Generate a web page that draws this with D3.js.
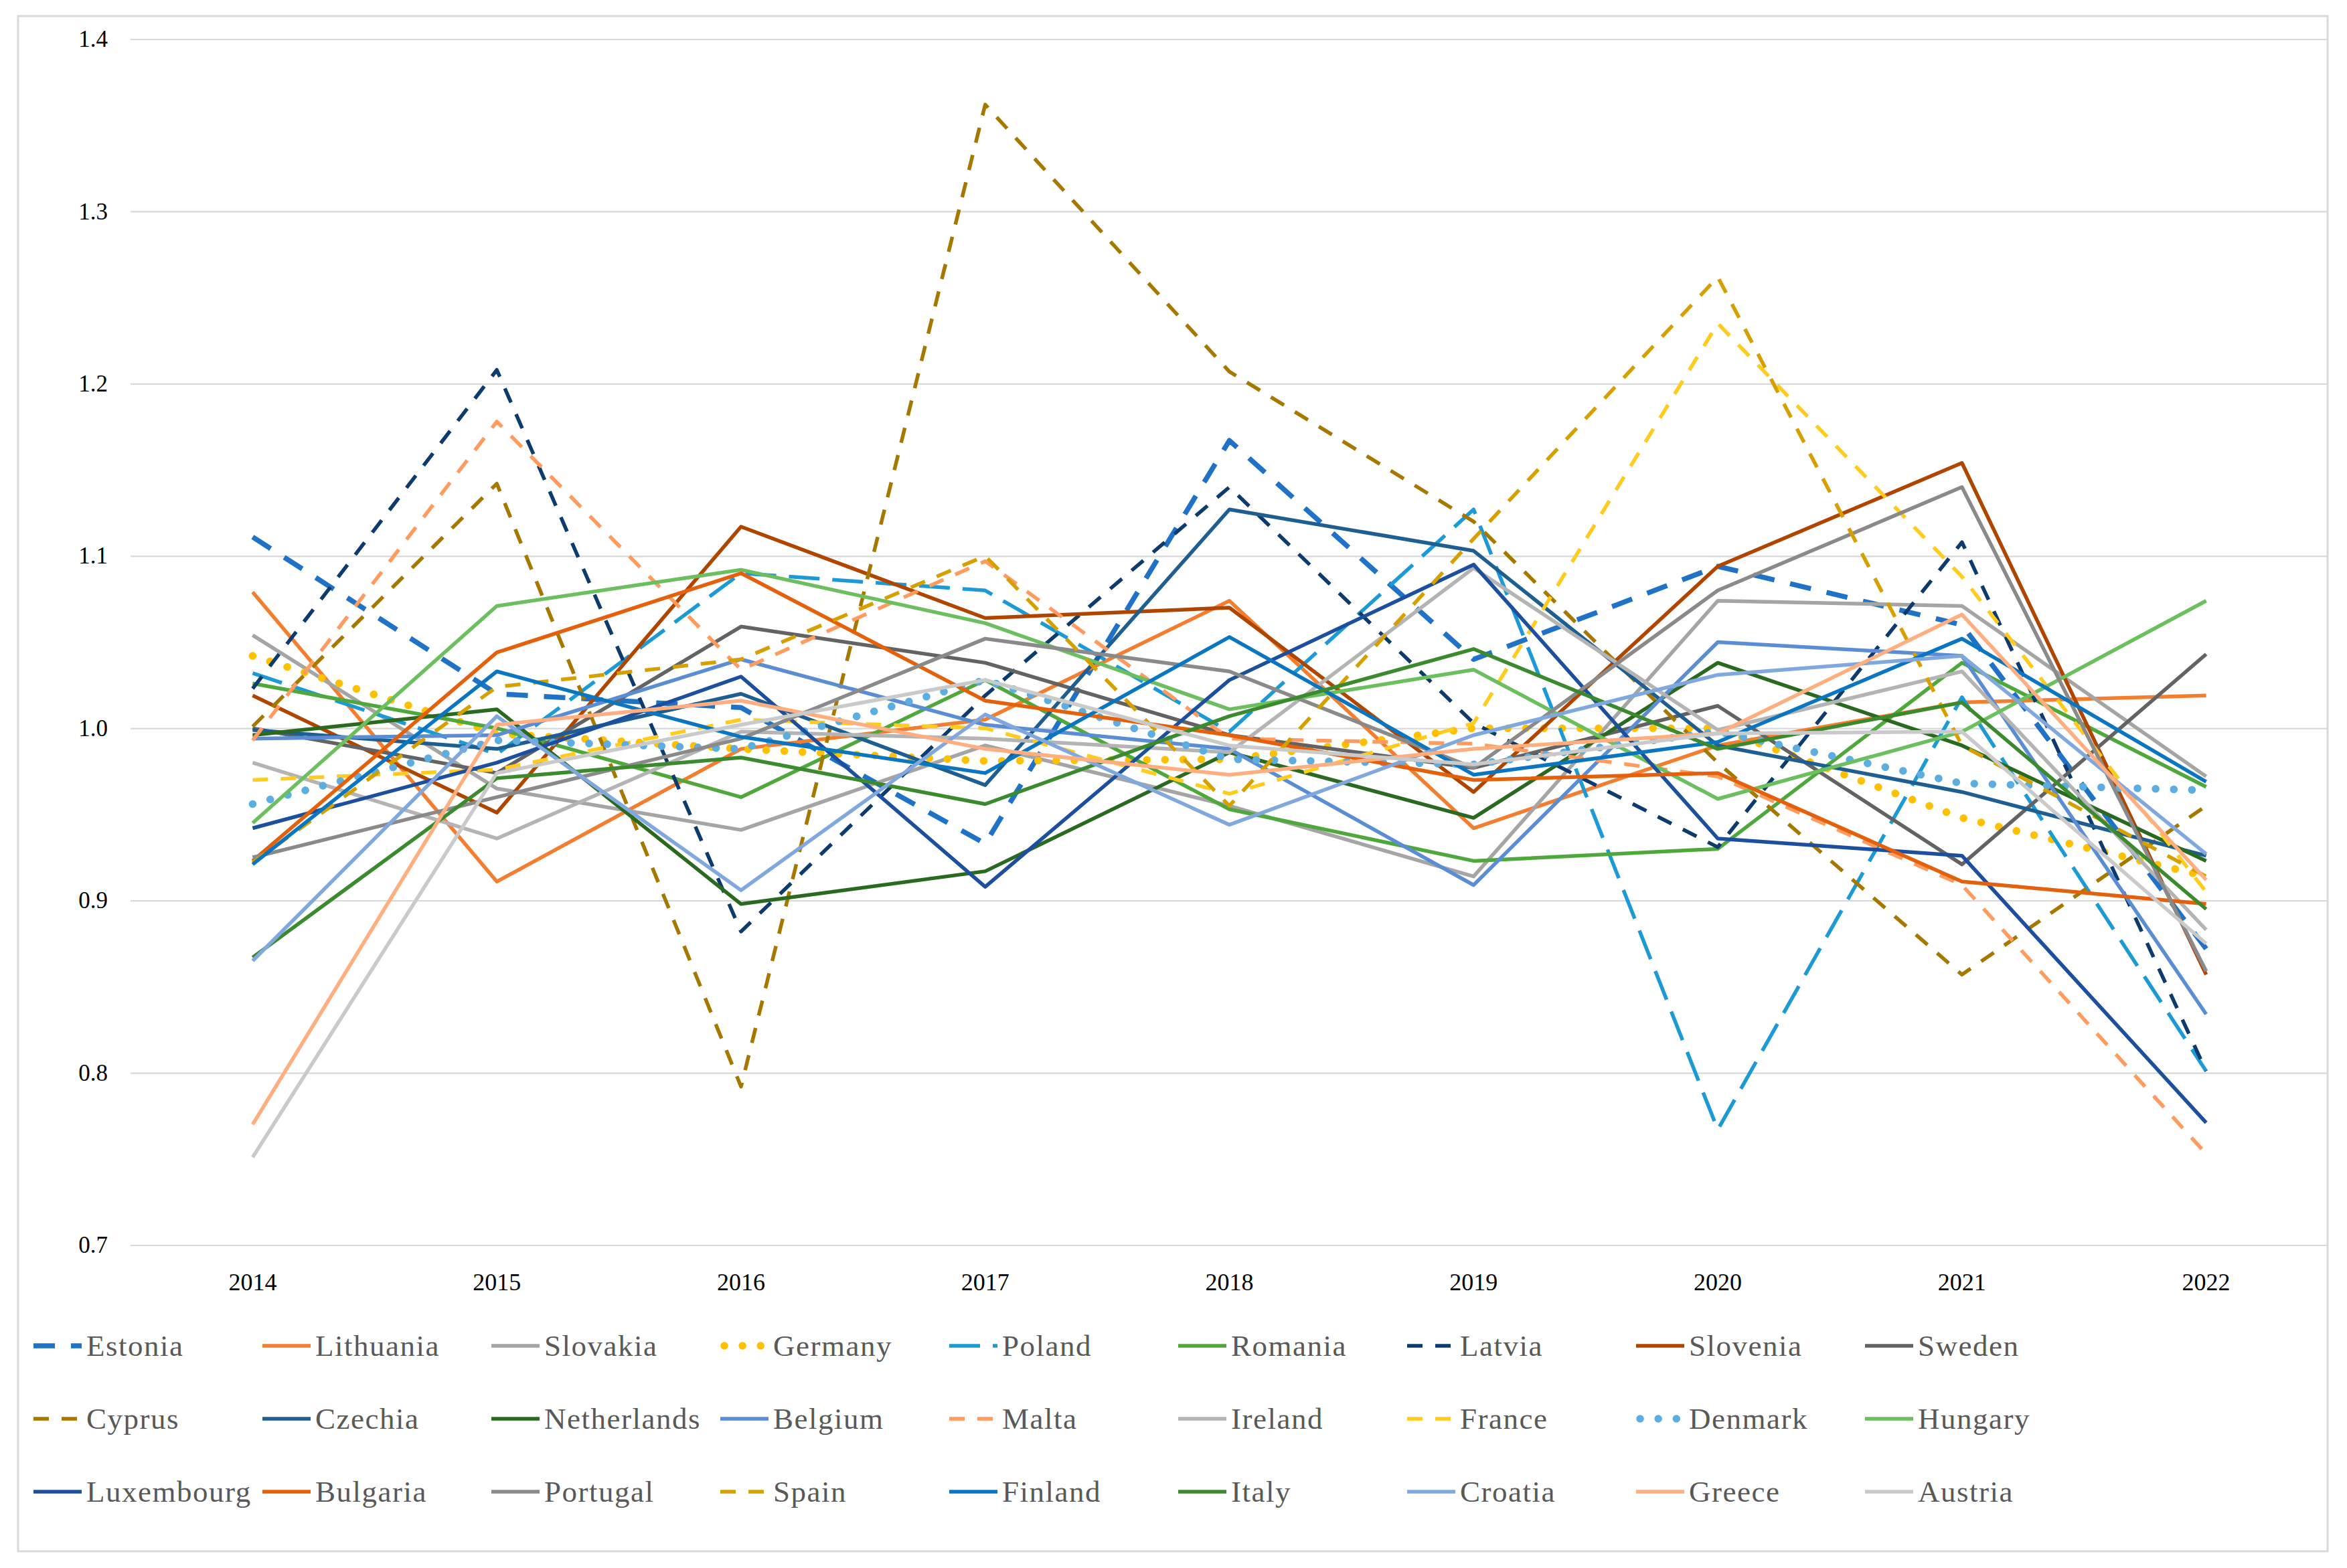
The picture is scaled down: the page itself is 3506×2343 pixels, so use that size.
<!DOCTYPE html>
<html><head><meta charset="utf-8">
<script src="https://cdn.jsdelivr.net/npm/d3@7"></script>
<style>body{margin:0;background:#fff}svg{display:block}</style>
</head><body><svg id="chart"></svg>
<script>
// ---------- DATA ----------
const years = [2014, 2015, 2016, 2017, 2018, 2019, 2020, 2021, 2022];
const yTicks = [0.7, 0.8, 0.9, 1.0, 1.1, 1.2, 1.3, 1.4];

const countries = ["Estonia","Lithuania","Slovakia","Germany","Poland","Romania","Latvia","Slovenia","Sweden",
  "Cyprus","Czechia","Netherlands","Belgium","Malta","Ireland","France","Denmark","Hungary",
  "Luxembourg","Bulgaria","Portugal","Spain","Finland","Italy","Croatia","Greece","Austria"];

const estonia     = [1.111, 1.020, 1.012, 0.933, 1.167, 1.040, 1.094, 1.060, 0.872];
const lithuania   = [1.079, 0.911, 0.988, 1.005, 1.074, 0.942, 0.990, 1.015, 1.019];
const slovakia    = [1.054, 0.965, 0.941, 0.990, 0.955, 0.914, 1.074, 1.071, 0.972];
const germany     = [1.042, 0.997, 0.988, 0.981, 0.982, 1.000, 1.000, 0.948, 0.914];
const poland      = [1.032, 0.985, 1.090, 1.080, 0.998, 1.127, 0.767, 1.018, 0.801];
const romania     = [1.026, 1.000, 0.960, 1.028, 0.953, 0.923, 0.930, 1.038, 0.966];
const latvia      = [1.023, 1.208, 0.882, 1.019, 1.140, 1.003, 0.931, 1.108, 0.801];
const slovenia    = [1.019, 0.951, 1.117, 1.064, 1.070, 0.963, 1.094, 1.154, 0.857];
const sweden      = [1.000, 0.974, 1.059, 1.038, 0.996, 0.977, 1.013, 0.921, 1.043];
const cyprus      = [1.001, 1.142, 0.792, 1.362, 1.207, 1.120, 0.980, 0.857, 0.955];
const czechia     = [0.999, 0.988, 1.020, 0.967, 1.127, 1.103, 0.990, 0.963, 0.926];
const netherlands = [0.996, 1.011, 0.898, 0.917, 0.986, 0.948, 1.038, 0.990, 0.923];
const belgium     = [0.994, 0.996, 1.040, 1.002, 0.988, 0.909, 1.050, 1.042, 0.834];
const malta       = [0.993, 1.178, 1.034, 1.097, 0.994, 0.991, 0.972, 0.909, 0.753];
const ireland     = [0.980, 0.936, 0.998, 0.994, 0.986, 1.093, 0.999, 1.033, 0.883];
const france      = [0.970, 0.976, 1.005, 1.000, 0.962, 1.003, 1.235, 1.088, 0.905];
const denmark     = [0.956, 0.993, 0.988, 1.028, 0.982, 0.979, 0.998, 0.968, 0.964];
const hungary     = [0.945, 1.071, 1.092, 1.061, 1.011, 1.034, 0.959, 0.998, 1.074];
const luxembourg  = [0.942, 0.980, 1.030, 0.908, 1.028, 1.095, 0.936, 0.926, 0.771];
const bulgaria    = [0.923, 1.044, 1.090, 1.016, 0.996, 0.970, 0.974, 0.911, 0.898];
const portugal    = [0.925, 0.960, 0.994, 1.052, 1.033, 0.977, 1.080, 1.140, 0.859];
const spain       = [0.922, 1.024, 1.040, 1.100, 0.955, 1.110, 1.262, 0.990, 0.914];
const finland     = [0.921, 1.033, 0.995, 0.974, 1.053, 0.973, 0.992, 1.052, 0.969];
const italy       = [0.867, 0.971, 0.983, 0.956, 1.007, 1.046, 0.988, 1.015, 0.895];
const croatia     = [0.865, 1.007, 0.906, 1.008, 0.944, 0.996, 1.031, 1.042, 0.927];
const greece      = [0.770, 1.002, 1.016, 0.988, 0.973, 0.988, 0.997, 1.066, 0.912];
const austria     = [0.751, 0.974, 1.002, 1.028, 0.990, 0.979, 0.997, 0.998, 0.875];

const valuesByCountry = {Estonia: estonia, Lithuania: lithuania, Slovakia: slovakia, Germany: germany,
  Poland: poland, Romania: romania, Latvia: latvia, Slovenia: slovenia, Sweden: sweden, Cyprus: cyprus,
  Czechia: czechia, Netherlands: netherlands, Belgium: belgium, Malta: malta, Ireland: ireland,
  France: france, Denmark: denmark, Hungary: hungary, Luxembourg: luxembourg, Bulgaria: bulgaria,
  Portugal: portugal, Spain: spain, Finland: finland, Italy: italy, Croatia: croatia, Greece: greece,
  Austria: austria};

// ---------- STYLES ----------
const LW = 5.5;
const DASH = "23,19", DOT = "0.1,27";
const styles = {
  Estonia:    {c: "#1F72C6", w: 7.5, d: "32,24"},
  Lithuania:  {c: "#F47E30", w: LW},
  Slovakia:   {c: "#A5A5A5", w: LW},
  Germany:    {c: "#FFC000", w: 11.5, d: DOT, cap: "round"},
  Poland:     {c: "#1C9AD6", w: LW, d: "46,19"},
  Romania:    {c: "#4EA83C", w: LW},
  Latvia:     {c: "#0D3B6E", w: LW, d: DASH},
  Slovenia:   {c: "#B04500", w: LW},
  Sweden:     {c: "#636363", w: LW},
  Cyprus:     {c: "#A67800", w: LW, d: DASH},
  Czechia:    {c: "#1F5E90", w: LW},
  Netherlands:{c: "#2A6A20", w: LW},
  Belgium:    {c: "#5B8DD5", w: LW},
  Malta:      {c: "#FF9B5E", w: LW, d: DASH},
  Ireland:    {c: "#B4B4B4", w: LW},
  France:     {c: "#FFCB1C", w: LW, d: DASH},
  Denmark:    {c: "#5DAEE0", w: 11.5, d: DOT, cap: "round"},
  Hungary:    {c: "#6CBF5E", w: LW},
  Luxembourg: {c: "#1C4F9E", w: LW},
  Bulgaria:   {c: "#E5600A", w: LW},
  Portugal:   {c: "#8A8A8A", w: LW},
  Spain:      {c: "#D6A000", w: LW, d: DASH},
  Finland:    {c: "#0A76C1", w: LW},
  Italy:      {c: "#3B8A2E", w: LW},
  Croatia:    {c: "#80A8DF", w: LW},
  Greece:     {c: "#FFAE80", w: LW},
  Austria:    {c: "#CACACA", w: LW}
};

// ---------- LAYOUT ----------
const W = 3506, H = 2343;
const svg = d3.select("#chart").attr("width", W).attr("height", H)
  .style("font-family", "'Liberation Serif',serif");

svg.append("rect").attr("x", 0).attr("y", 0).attr("width", W).attr("height", H).attr("fill", "#fff");
svg.append("rect").attr("x", 27).attr("y", 24).attr("width", 3450).attr("height", 2294)
  .attr("fill", "none").attr("stroke", "#D9D9D9").attr("stroke-width", 3);

const plotL = 195, plotR = 3478, plotT = 58.5, plotB = 1860.5;
const xBand = d3.scaleBand().domain(years).range([plotL, plotR]).padding(0);
const x = d => xBand(d) + xBand.bandwidth() / 2;
const y = d3.scaleLinear().domain([0.7, 1.4]).range([plotB, plotT]);

// gridlines + y labels via axis
const yAxis = d3.axisLeft(y).tickValues(yTicks).tickFormat(d3.format(".1f"))
  .tickSize(-(plotR - plotL)).tickPadding(34);
const gy = svg.append("g").attr("transform", `translate(${plotL},0)`).call(yAxis);
gy.select(".domain").remove();
gy.selectAll(".tick line").attr("stroke", "#D9D9D9").attr("stroke-width", 2.2);
gy.selectAll(".tick text").attr("font-size", 35).attr("fill", "#000")
  .attr("font-family", "'Liberation Serif',serif");

// x labels via axis
const xAxis = d3.axisBottom(xBand).tickSize(0).tickPadding(42);
const gx = svg.append("g").attr("transform", `translate(0,${plotB})`).call(xAxis);
gx.select(".domain").attr("stroke", "#D9D9D9").attr("stroke-width", 2.2);
gx.selectAll(".tick text").attr("font-size", 36).attr("fill", "#000")
  .attr("font-family", "'Liberation Serif',serif");

// lines
const line = d3.line().x((d, i) => x(years[i])).y(d => y(d));
const gLines = svg.append("g");
countries.forEach(name => {
  const s = styles[name];
  gLines.append("path")
    .datum(valuesByCountry[name])
    .attr("d", line)
    .attr("fill", "none")
    .attr("stroke", s.c)
    .attr("stroke-width", s.w)
    .attr("stroke-linejoin", "round")
    .attr("stroke-linecap", s.cap || "butt")
    .attr("stroke-dasharray", s.d || null);
});

// legend
const legX0 = 50, legDX = 342, legY0 = 2011, legDY = 109;
const gLeg = svg.append("g");
countries.forEach((name, i) => {
  const s = styles[name];
  const col = i % 9, row = Math.floor(i / 9);
  const lx = legX0 + col * legDX, ly = legY0 + row * legDY;
  gLeg.append("line")
    .attr("x1", lx + (s.cap ? 6 : 0)).attr("x2", lx + 72).attr("y1", ly).attr("y2", ly)
    .attr("stroke", s.c).attr("stroke-width", s.w)
    .attr("stroke-linecap", s.cap || "butt")
    .attr("stroke-dasharray", s.d || null);
  gLeg.append("text")
    .attr("x", lx + 79).attr("y", ly + 15)
    .attr("font-size", 45).attr("letter-spacing", 1.5).attr("fill", "#595959")
    .attr("font-family", "'Liberation Serif',serif")
    .text(name);
});
</script></body></html>
